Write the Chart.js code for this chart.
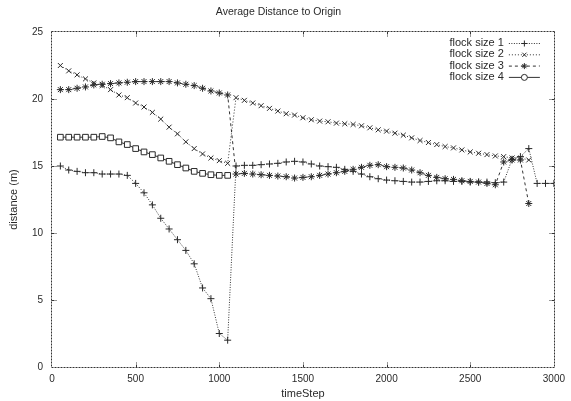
<!DOCTYPE html>
<html>
<head>
<meta charset="utf-8">
<script src="https://cdn.jsdelivr.net/npm/chart.js@4.4.0/dist/chart.umd.min.js"></script>
<style>
html, body { margin: 0; padding: 0; background: #fff; }
#wrap { width: 571px; height: 401px; position: relative; }
</style>
</head>
<body>
<div id="wrap"><canvas id="chart"></canvas></div>
<script>
"use strict";

// Sampled every 50 time steps; each series runs as far as its own array goes.
const steps = [50, 100, 150, 200, 250, 300, 350, 400, 450, 500, 550, 600, 650, 700, 750, 800, 850, 900, 950, 1000,
  1050, 1100, 1150, 1200, 1250, 1300, 1350, 1400, 1450, 1500, 1550, 1600, 1650, 1700, 1750, 1800, 1850, 1900, 1950, 2000,
  2050, 2100, 2150, 2200, 2250, 2300, 2350, 2400, 2450, 2500, 2550, 2600, 2650, 2700, 2750, 2800, 2850, 2900, 2950, 3000];

const flock1 = [15.0, 14.7, 14.6, 14.5, 14.5, 14.4, 14.4, 14.4, 14.3, 13.7, 13.0, 12.1, 11.1, 10.3, 9.5, 8.7, 7.7, 5.9, 5.1, 2.5,
  2.0, 15.0, 15.05, 15.05, 15.1, 15.15, 15.2, 15.3, 15.35, 15.3, 15.15, 15.0, 14.95, 14.9, 14.75, 14.6, 14.4, 14.2, 14.05, 13.95,
  13.9, 13.85, 13.8, 13.8, 13.85, 13.9, 13.9, 13.85, 13.85, 13.8, 13.8, 13.8, 13.75, 13.8, 15.5, 15.7, 16.3, 13.7, 13.7, 13.7];

const flock2 = [22.5, 22.1, 21.8, 21.5, 21.2, 21.0, 20.7, 20.3, 20.1, 19.7, 19.4, 19.0, 18.5, 17.9, 17.4, 16.8, 16.3, 15.9, 15.6, 15.4,
  15.2, 20.1, 19.9, 19.7, 19.5, 19.3, 19.1, 18.9, 18.8, 18.6, 18.45, 18.35, 18.3, 18.2, 18.15, 18.1, 18.0, 17.85, 17.7, 17.6,
  17.45, 17.3, 17.1, 16.9, 16.75, 16.6, 16.45, 16.35, 16.2, 16.05, 15.95, 15.85, 15.75, 15.7, 15.6, 15.6, 15.45];

const flock3 = [20.7, 20.7, 20.8, 20.9, 21.05, 21.1, 21.15, 21.2, 21.25, 21.3, 21.3, 21.3, 21.3, 21.3, 21.2, 21.1, 21.0, 20.8, 20.6, 20.45,
  20.3, 14.4, 14.45, 14.4, 14.35, 14.3, 14.25, 14.2, 14.1, 14.15, 14.2, 14.3, 14.4, 14.5, 14.6, 14.75, 14.9, 15.05, 15.1, 14.95,
  14.9, 14.85, 14.7, 14.5, 14.3, 14.15, 14.05, 14.0, 13.9, 13.85, 13.8, 13.7, 13.6, 15.3, 15.45, 15.45, 12.2];

const flock4 = [17.15, 17.15, 17.15, 17.15, 17.15, 17.2, 17.1, 16.8, 16.6, 16.3, 16.05, 15.85, 15.6, 15.35, 15.1, 14.85, 14.6, 14.45, 14.35, 14.3,
  14.3];

const seriesNames = ["flock size 1", "flock size 2", "flock size 3", "flock size 4"];
const xTicks = [0, 500, 1000, 1500, 2000, 2500, 3000];
const yTicks = [0, 5, 10, 15, 20, 25];

const FONT = "'Liberation Sans', Arial, sans-serif";
const INK = "#2a2a2a";

function pairs(values) {
  return values.map((v, i) => ({ x: steps[i], y: v }));
}

// gnuplot-ish styling: grey dotted/dashed lines with black point symbols
const styles = [
  { dash: [1, 1.5], point: "cross", legendPoint: "cross", radius: 3.5 },
  { dash: [1, 2], point: "crossRot", legendPoint: "crossRot", radius: 3.5 },
  { dash: [3, 3], point: "star", legendPoint: "star", radius: 3.5 },
  { dash: [], point: "rect", legendPoint: "circle", radius: 4 },
];

const datasets = [flock1, flock2, flock3, flock4].map((vals, i) => ({
  label: seriesNames[i],
  data: pairs(vals),
  borderColor: "#333",
  borderWidth: 1,
  borderDash: styles[i].dash,
  pointStyle: styles[i].point,
  pointRadius: styles[i].radius,
  pointBorderColor: INK,
  pointBackgroundColor: "#fff",
  pointBorderWidth: 1,
  tension: 0,
  fill: false,
}));

// scanned-looking dotted frame with inward ticks on all four sides,
// plus the key in the top right corner: text, then a line sample with the symbol
const decorPlugin = {
  id: "decor",
  afterDraw(chart) {
    const ctx = chart.ctx;
    const a = chart.chartArea;
    const sx = chart.scales.x, sy = chart.scales.y;
    ctx.save();
    ctx.strokeStyle = "#333";
    ctx.lineWidth = 1;
    const L = Math.round(a.left) - 0.5, R = Math.round(a.right) + 0.5;
    const T = Math.round(a.top) - 0.5, B = Math.round(a.bottom) + 0.5;
    ctx.setLineDash([2, 1]);
    for (const [x0, y0, x1, y1] of [[L, T, R, T], [R, T, R, B], [L, B, R, B], [L, T, L, B]]) {
      ctx.beginPath();
      ctx.moveTo(x0, y0);
      ctx.lineTo(x1, y1);
      ctx.stroke();
    }
    const len = 5;
    ctx.setLineDash([3, 1]);
    const tick = (x0, y0, x1, y1) => {
      ctx.beginPath();
      ctx.moveTo(x0, y0);
      ctx.lineTo(x1, y1);
      ctx.stroke();
    };
    for (const v of xTicks.slice(1, -1)) {
      const px = Math.round(sx.getPixelForValue(v)) + 0.5;
      tick(px, B, px, B - len);
      tick(px, T, px, T + len);
    }
    for (const v of yTicks.slice(1, -1)) {
      const py = Math.round(sy.getPixelForValue(v)) + 0.5;
      tick(L, py, L + len, py);
      tick(R, py, R - len, py);
    }
    ctx.setLineDash([]);

    ctx.font = "11px " + FONT;
    ctx.textAlign = "right";
    ctx.textBaseline = "middle";
    chart.data.datasets.forEach((ds, i) => {
      const y = a.top + 11 + i * 11.3;
      const textRight = a.right - 50;
      ctx.fillStyle = INK;
      ctx.fillText(ds.label, textRight, y);
      const x0 = textRight + 5, x1 = a.right - 14;
      ctx.strokeStyle = ds.borderColor;
      ctx.lineWidth = 1;
      ctx.setLineDash(ds.borderDash);
      ctx.beginPath();
      ctx.moveTo(x0, y + 0.5); ctx.lineTo(x1, y + 0.5);
      ctx.stroke();
      ctx.setLineDash([]);
      ctx.strokeStyle = INK;
      ctx.fillStyle = "#fff";
      Chart.helpers.drawPoint(ctx, { pointStyle: styles[i].legendPoint, radius: 3, borderWidth: 1, rotation: 0 }, (x0 + x1) / 2, y + 0.5);
    });
    ctx.restore();
  },
};

new Chart(document.getElementById("chart"), {
  type: "line",
  data: { datasets },
  options: {
    responsive: true,
    maintainAspectRatio: false,
    animation: false,
    layout: { padding: { left: 0, right: 14, top: 0, bottom: 0 } },
    plugins: {
      legend: { display: false },
      tooltip: { enabled: false },
      title: {
        display: true,
        text: "Average Distance to Origin",
        color: INK,
        font: { family: FONT, size: 10.5, weight: "normal" },
        padding: { top: 6, bottom: 13.4 },
      },
    },
    scales: {
      x: {
        type: "linear",
        min: 0,
        max: 3000,
        afterBuildTicks: (s) => { s.ticks = xTicks.map((v) => ({ value: v })); },
        afterFit: (s) => { s.height = 34; },
        grid: { display: false, drawTicks: false },
        border: { display: false },
        ticks: { color: INK, padding: 6, maxRotation: 0, font: { family: FONT, size: 10 }, callback: (v) => String(v) },
        title: { display: true, text: "timeStep", color: INK, padding: { top: 0, bottom: 0 }, font: { family: FONT, size: 11 } },
      },
      y: {
        type: "linear",
        min: 0,
        max: 25,
        afterBuildTicks: (s) => { s.ticks = yTicks.map((v) => ({ value: v })); },
        afterFit: (s) => { s.width = 52; },
        grid: { display: false, drawTicks: false },
        border: { display: false },
        ticks: { color: INK, padding: 9, font: { family: FONT, size: 10 }, callback: (v) => String(v) },
        title: { display: true, text: "distance (m)", color: INK, padding: { top: 7, bottom: 0 }, font: { family: FONT, size: 11 } },
      },
    },
  },
  plugins: [decorPlugin],
});
</script>
</body>
</html>
